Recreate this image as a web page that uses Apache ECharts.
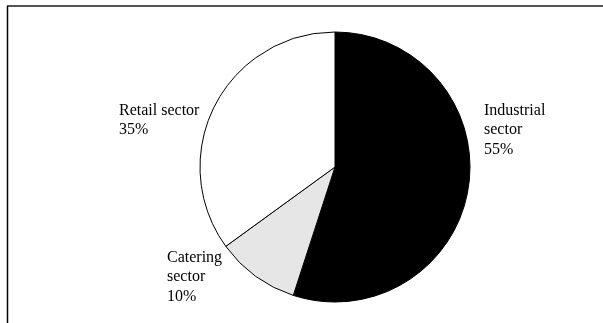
<!DOCTYPE html>
<html>
<head>
<meta charset="utf-8">
<script src="https://cdn.jsdelivr.net/npm/echarts@6/dist/echarts.min.js"></script>
<style>
  html, body { margin: 0; padding: 0; background: #fff; }
  #chart { width: 603px; height: 323px; }
</style>
</head>
<body>
<div id="chart"></div>
<script>
// Share of each sector
const sectors = ['Industrial\nsector', 'Catering\nsector', 'Retail sector'];
const shares = [55, 10, 35];
const sliceColors = ['#000000', '#e6e6e6', '#ffffff'];

// Where each label's top-left corner sits
const labelSpots = [
  { x: 484, y: 101 },
  { x: 167, y: 248 },
  { x: 119, y: 101 }
];

const chart = echarts.init(document.getElementById('chart'), null, { renderer: 'canvas' });

chart.setOption({
  backgroundColor: '#ffffff',
  animation: false,
  graphic: [
    {
      type: 'line',
      shape: { x1: 7, y1: 6, x2: 603, y2: 6 },
      style: { stroke: '#555555', lineWidth: 2 }
    },
    {
      type: 'line',
      shape: { x1: 7.5, y1: 6, x2: 7.5, y2: 323 },
      style: { stroke: '#000000', lineWidth: 1.5 }
    }
  ],
  series: [
    {
      type: 'pie',
      center: [335, 167],
      radius: 135,
      startAngle: 90,
      clockwise: true,
      silent: true,
      data: sectors.map((name, i) => ({
        name: name,
        value: shares[i],
        itemStyle: { color: sliceColors[i] }
      })),
      itemStyle: { borderColor: '#000000', borderWidth: 1 },
      label: {
        show: true,
        position: 'outside',
        formatter: p => p.name + '\n' + p.value + '%',
        fontFamily: 'Liberation Serif',
        fontSize: 16,
        lineHeight: 19.5,
        color: '#000000'
      },
      labelLine: { show: false },
      labelLayout: p => ({
        x: labelSpots[p.dataIndex].x,
        y: labelSpots[p.dataIndex].y,
        align: 'left',
        verticalAlign: 'top'
      })
    }
  ]
});
</script>
</body>
</html>
